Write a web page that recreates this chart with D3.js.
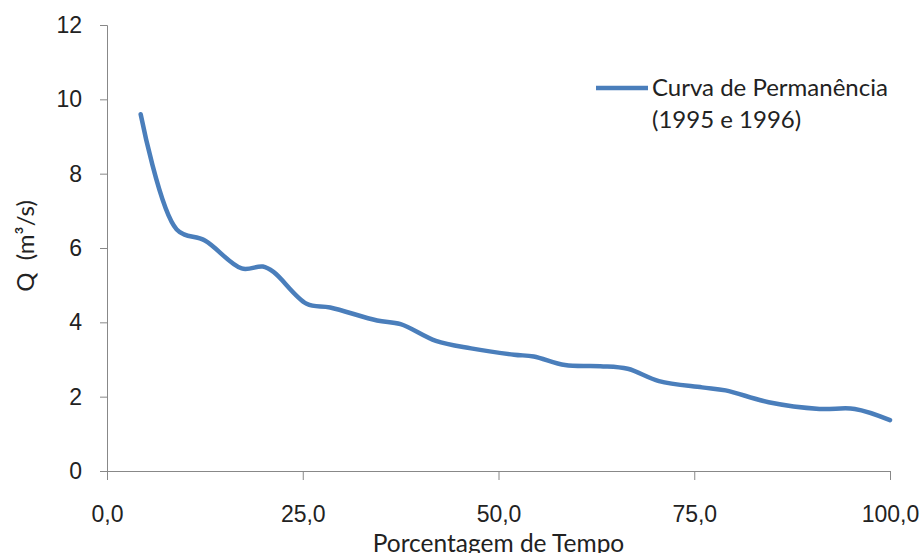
<!DOCTYPE html>
<html lang="pt">
<head>
    <meta charset="UTF-8">
    <title>Curva de Permanência</title>
    <script src="https://cdnjs.cloudflare.com/ajax/libs/d3/7.8.5/d3.min.js"></script>
    <style>
        * { margin: 0; padding: 0; box-sizing: border-box; }
        body { background: #fff; }
        svg { display: block; font-family: Lato, 'Open Sans', sans-serif; }
        .tick text { font-size: 23px; fill: #222; }
    </style>
</head>
<body>
    <div id="chart"></div>
    <script>
        // Percent of time (x) and flow Q in m³/s (y)
        const tempo = [4.3, 8.9, 12.5, 17.2, 19.9, 21.3, 25.5, 28.5, 34.5, 37.5, 42, 46.5,
                       52, 54.5, 58.5, 63, 66.5, 70.5, 76, 79, 84.5, 91, 95.5, 100];
        const vazao = [9.6, 6.5, 6.2, 5.45, 5.5, 5.35, 4.5, 4.4, 4.05, 3.95, 3.5, 3.3,
                       3.13, 3.08, 2.85, 2.82, 2.75, 2.42, 2.25, 2.17, 1.85, 1.67, 1.67, 1.37];
        const xTicks = [0, 25, 50, 75, 100];
        const yTicks = [0, 2, 4, 6, 8, 10, 12];
        const legendLines = ['Curva de Permanência', '(1995 e 1996)'];

        const width = 923, height = 553;
        const margin = { top: 25, right: 33, bottom: 82, left: 107 };
        const color = '#4a7ebb';

        const svg = d3.select('#chart').append('svg')
            .attr('width', width)
            .attr('height', height);

        const x = d3.scaleLinear().domain([0, 100]).range([margin.left, width - margin.right]);
        const y = d3.scaleLinear().domain([0, 12]).range([height - margin.bottom, margin.top]);

        const fmt = d => d3.format('.1f')(d).replace('.', ',');

        // x axis
        const xAxis = svg.append('g')
            .attr('transform', `translate(0,${y(0)})`)
            .call(d3.axisBottom(x).tickValues(xTicks).tickFormat(fmt).tickSize(9));
        xAxis.select('.domain').attr('stroke', '#888');
        xAxis.selectAll('.tick line').attr('stroke', '#888');
        xAxis.selectAll('.tick text').attr('y', 51).attr('dy', 0);

        // y axis
        const yAxis = svg.append('g')
            .attr('transform', `translate(${x(0)},0)`)
            .call(d3.axisLeft(y).tickValues(yTicks).tickSize(7).tickPadding(18));
        yAxis.select('.domain').attr('stroke', '#888');
        yAxis.selectAll('.tick line').attr('stroke', '#888');

        // axis titles
        svg.append('text')
            .attr('x', x(50))
            .attr('y', 552)
            .attr('text-anchor', 'middle')
            .attr('font-size', 24.5)
            .attr('fill', '#222')
            .text('Porcentagem de Tempo');

        svg.append('text')
            .attr('transform', `translate(34,246) rotate(-90)`)
            .attr('text-anchor', 'middle')
            .attr('font-size', 24)
            .attr('fill', '#222')
            .text('Q\u00a0\u00a0(m³/s)');

        // curve
        const pts = tempo.map((t, i) => [t, vazao[i]]);
        const line = d3.line()
            .x(d => x(d[0]))
            .y(d => y(d[1]))
            .curve(d3.curveCatmullRom.alpha(0.5));

        svg.append('path')
            .datum(pts)
            .attr('fill', 'none')
            .attr('stroke', color)
            .attr('stroke-width', 4.5)
            .attr('stroke-linecap', 'round')
            .attr('d', line);

        // legend
        const legend = svg.append('g').attr('transform', 'translate(596,88)');
        legend.append('line')
            .attr('x1', 0).attr('x2', 52)
            .attr('stroke', color)
            .attr('stroke-width', 4.5);
        legend.selectAll('text')
            .data(legendLines)
            .enter()
            .append('text')
            .attr('x', 56)
            .attr('y', (d, i) => 8 + i * 32)
            .attr('font-size', 24)
            .attr('fill', '#222')
            .text(d => d);
    </script>
</body>
</html>
